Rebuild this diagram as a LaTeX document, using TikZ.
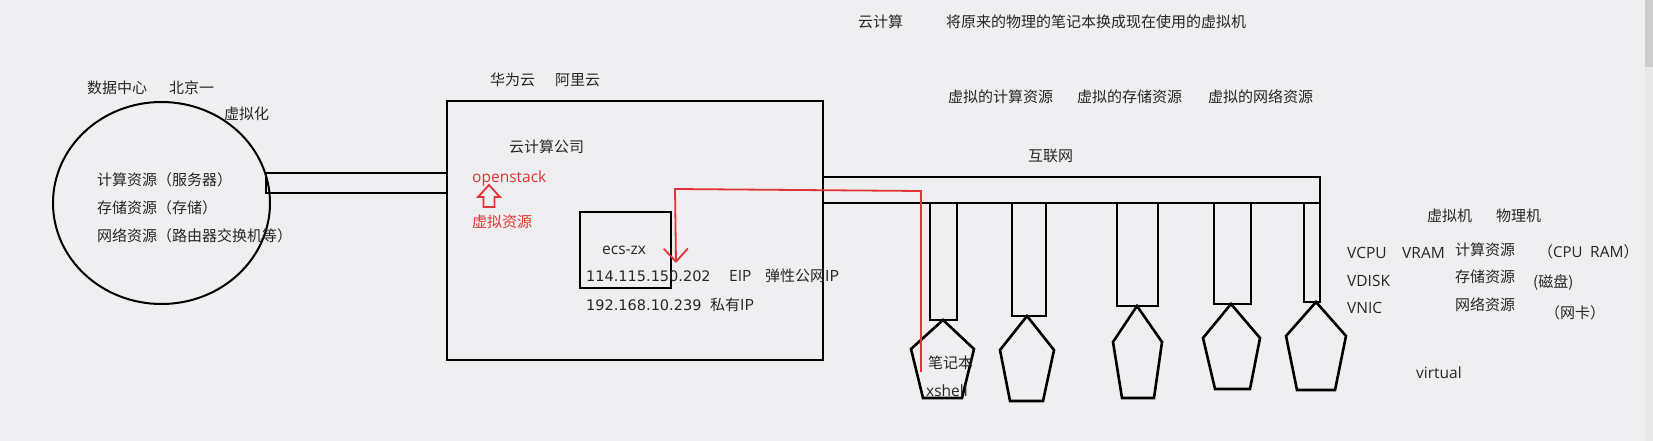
\documentclass[tikz,border=0pt]{standalone}
\usepackage{fontspec}
\setmainfont{Noto Sans CJK SC}
\newfontfamily\latf{Open Sans}
\newfontfamily\numf{DejaVu Sans}
\usetikzlibrary{arrows.meta}
\definecolor{bgc}{RGB}{239,239,241}
\definecolor{redc}{RGB}{226,52,52}
\tikzset{
  lbl/.style={anchor=west,inner sep=0pt,font=\fontsize{15}{18}\selectfont,text=black!85},
  llbl/.style={lbl,font=\latf\fontsize{15.5}{18}\selectfont},
  nlbl/.style={lbl,font=\numf\fontsize{14.5}{18}\selectfont},
  rlbl/.style={lbl,text=redc},
  thick line/.style={draw=black,line width=2.6pt,line join=miter},
  thin line/.style={draw=black,line width=2pt},
  redline/.style={draw=redc,line width=1.8pt},
}
\begin{document}
\begin{tikzpicture}[x=1pt,y=-1pt]
\fill[bgc] (0,0) rectangle (1653,441);
\useasboundingbox (0,0) rectangle (1653,441);
% scrollbar
\fill[black!9] (1645,0) rectangle (1653,441);
\fill[black!20] (1645,0) rectangle (1653,67);

% data centre circle
\draw[thin line] (161.5,203) ellipse [x radius=108.5, y radius=101];
\node[lbl] (dc) at (87,88) {数据中心};
\node[lbl] (bj) at (169,88) {北京一};
\node[lbl] (virt) at (224,114) {虚拟化};
\node[lbl] (r1) at (97,180) {计算资源（服务器）};
\node[lbl] (r2) at (97,208) {存储资源（存储）};
\node[lbl] (r3) at (97,236) {网络资源（路由器交换机等）};

% left pipe
\draw[thick line] (266,173) rectangle (447,193);

% cloud company box
\draw[thick line] (447,101) rectangle (823,360);
\node[lbl] (hw) at (490,80) {华为云};
\node[lbl] (al) at (555,80) {阿里云};
\node[lbl] (cc) at (509,147) {云计算公司};
\node[llbl,text=redc] (os) at (472,178) {openstack};
\node[rlbl] (vr) at (472,222) {虚拟资源};
\draw[redline,line join=miter] (489,185) -- (500,197) -- (494.5,197) -- (494.5,207) -- (483.5,207) -- (483.5,197) -- (478,197) -- cycle;

% ecs box
\draw[thick line] (580,212) rectangle (671,288);
\node[llbl] (ecs) at (602,250) {ecs-zx};
\node[nlbl] (eip) at (586,276) {114.115.150.202};
\node[llbl] (eipt) at (729,276) {EIP};
\node[lbl] (eipc) at (765,276) {弹性公网IP};
\node[nlbl] (pip) at (586,305) {192.168.10.239};
\node[lbl] (pipc) at (710,305) {私有IP};

% internet pipe
\draw[thick line] (823,177) rectangle (1320,203);
\node[lbl] (net) at (1028,156) {互联网};

% stems
\draw[thick line] (930,203) rectangle (957,320);
\draw[thick line] (1012,203) rectangle (1046,316);
\draw[thick line] (1117,203) rectangle (1158,306);
\draw[thick line] (1214,203) rectangle (1251,304);
\draw[thick line] (1304,203) rectangle (1320,302);

% pentagons
\draw[thick line] (943,320) -- (974,349) -- (962,398) -- (923,398) -- (911,349) -- cycle;
\draw[thick line] (1027,316) -- (1054,350) -- (1043,401) -- (1010,401) -- (1000,350) -- cycle;
\draw[thick line] (1137,306) -- (1162,342) -- (1154,398) -- (1122,398) -- (1113,342) -- cycle;
\draw[thick line] (1231,304) -- (1260,338) -- (1250,389) -- (1215,389) -- (1203,338) -- cycle;
\draw[thick line] (1316,302) -- (1346,336) -- (1335,390) -- (1297,390) -- (1286,336) -- cycle;

\node[lbl] (nb) at (928,363) {笔记本};
\node[llbl] (xs) at (926,391) {xshell};

% red path from laptop to ecs
\coordinate (rs) at (921,372);
\coordinate (rc1) at (921,191);
\coordinate (rc2) at (675,189);
\coordinate (re) at (676,263);
\draw[redline,-{Straight Barb[length=13pt,width=24pt,line width=1.8pt]}] (rs) -- (rc1) -- (rc2) -- (re);

% top texts
\node[lbl] (yjs) at (858,22) {云计算};
\node[lbl] (desc) at (946,22) {将原来的物理的笔记本换成现在使用的虚拟机};
\node[lbl] (v1) at (948,97) {虚拟的计算资源};
\node[lbl] (v2) at (1077,97) {虚拟的存储资源};
\node[lbl] (v3) at (1208,97) {虚拟的网络资源};

% right texts
\node[lbl] (vm) at (1427,216) {虚拟机};
\node[lbl] (pm) at (1496,216) {物理机};
\node[llbl] (vcpu) at (1347,253) {VCPU};
\node[llbl] (vram) at (1402,253) {VRAM};
\node[lbl] (cr) at (1455,250) {计算资源};
\node[lbl] (cpu) at (1538,252) {（{\latf CPU}};
\node[lbl] (ram) at (1590,252) {{\latf\fontsize{15.5}{18}\selectfont RAM}）};
\node[llbl] (vdisk) at (1347,281) {VDISK};
\node[lbl] (sr) at (1455,277) {存储资源};
\node[lbl] (disk) at (1533,283) {(磁盘)};
\node[llbl] (vnic) at (1347,308) {VNIC};
\node[lbl] (nr) at (1455,305) {网络资源};
\node[lbl] (nic) at (1545,313) {（网卡）};
\node[llbl] (vtl) at (1416,373) {virtual};
\end{tikzpicture}
\end{document}
